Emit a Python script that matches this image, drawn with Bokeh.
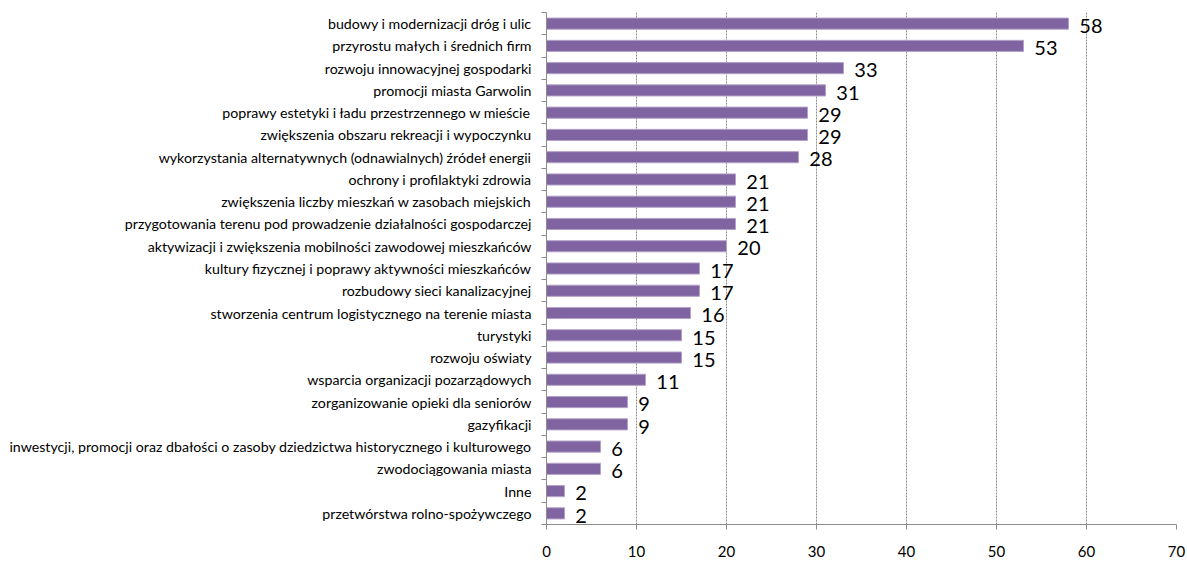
from bokeh.plotting import figure
from bokeh.models import ColumnDataSource, FixedTicker, LinearAxis, Range1d
from bokeh.core.properties import value
from bokeh.embed import file_html
from bokeh.resources import INLINE

categories = [
    "budowy i modernizacji dróg i ulic",
    "przyrostu małych i średnich firm",
    "rozwoju innowacyjnej gospodarki",
    "promocji miasta Garwolin",
    "poprawy estetyki i ładu przestrzennego w mieście",
    "zwiększenia obszaru rekreacji i wypoczynku",
    "wykorzystania alternatywnych (odnawialnych) źródeł energii",
    "ochrony i profilaktyki zdrowia",
    "zwiększenia liczby mieszkań w zasobach miejskich",
    "przygotowania terenu pod prowadzenie działalności gospodarczej",
    "aktywizacji i zwiększenia mobilności zawodowej mieszkańców",
    "kultury fizycznej i poprawy aktywności mieszkańców",
    "rozbudowy sieci kanalizacyjnej",
    "stworzenia centrum logistycznego na terenie miasta",
    "turystyki",
    "rozwoju oświaty",
    "wsparcia organizacji pozarządowych",
    "zorganizowanie opieki dla seniorów",
    "gazyfikacji",
    "inwestycji, promocji oraz dbałości o zasoby dziedzictwa historycznego i kulturowego",
    "zwodociągowania miasta",
    "Inne",
    "przetwórstwa rolno-spożywczego",
]
values = [58, 53, 33, 31, 29, 29, 28, 21, 21, 21, 20, 17, 17, 16, 15, 15, 11, 9, 9, 6, 6, 2, 2]
x_ticks = [0, 10, 20, 30, 40, 50, 60, 70]

n = len(categories)
ypos = [n - 1 - i for i in range(n)]
src = ColumnDataSource(dict(y=ypos, v=values, lab=[str(v) for v in values],
                            ly=[y - 0.1 for y in ypos], lx=[v + 1.2 for v in values]))

FONT = "Lato"

p = figure(width=1187, height=563, output_backend="svg", toolbar_location=None,
           x_range=Range1d(0, 70), y_range=Range1d(-0.5, n - 0.5),
           x_axis_location=None, y_axis_location=None,
           min_border_left=546, min_border_right=11, min_border_top=12, min_border_bottom=39)
p.outline_line_color = None
p.background_fill_color = "white"

# vertical dashed gridlines
p.ygrid.visible = False
p.xgrid.ticker = FixedTicker(ticks=x_ticks)
p.xgrid.grid_line_color = "#8c8c8c"
p.xgrid.grid_line_dash = "2 1"
p.xgrid.grid_line_width = 1

p.hbar(y="y", right="v", left=0, height=0.5, source=src,
       fill_color="#8064A2", line_color="#B3A2C7", line_width=1)

p.text(x="lx", y="ly", text="lab", source=src, text_font=value(FONT),
       text_font_size="20px", text_baseline="middle", text_align="left", text_color="black")

# bottom axis
xa = LinearAxis(ticker=FixedTicker(ticks=x_ticks))
xa.axis_line_color = "#8c8c8c"
xa.major_tick_line_color = "#8c8c8c"
xa.major_tick_out = 5
xa.major_tick_in = 0
xa.minor_tick_line_color = None
xa.major_label_standoff = 16
xa.major_label_text_font = FONT
xa.major_label_text_font_size = "15px"
xa.major_label_text_color = "black"
p.add_layout(xa, "below")

# left axis: boundary ticks, no labels
ta = LinearAxis(ticker=FixedTicker(ticks=[i - 0.5 for i in range(n + 1)]))
ta.axis_line_color = "#8c8c8c"
ta.major_tick_line_color = "#8c8c8c"
ta.major_tick_out = 5
ta.major_tick_in = 0
ta.minor_tick_line_color = None
ta.major_label_text_font_size = "0px"
ta.major_label_standoff = 0
ta.major_label_overrides = {i - 0.5: "" for i in range(n + 1)}
p.add_layout(ta, "left")

# left axis: category labels
la = LinearAxis(ticker=FixedTicker(ticks=ypos))
la.axis_line_color = None
la.major_tick_line_color = None
la.minor_tick_line_color = None
la.major_label_overrides = {y: c for y, c in zip(ypos, categories)}
la.major_label_text_font = FONT
la.major_label_text_font_size = "14.2px"
la.major_label_text_color = "black"
la.major_label_standoff = 4
p.add_layout(la, "left")

open("out.html", "w").write(file_html(p, INLINE))
